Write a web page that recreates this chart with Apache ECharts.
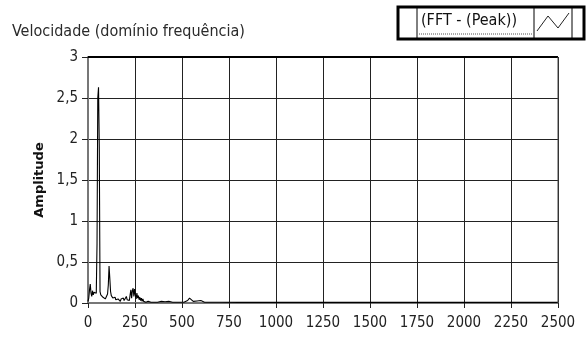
<!DOCTYPE html>
<html><head><meta charset="utf-8">
<script src="https://cdn.jsdelivr.net/npm/echarts@6/dist/echarts.min.js"></script>
<style>html,body{margin:0;padding:0;background:#fff}#c{width:586px;height:343px}</style>
</head><body><div id="c"></div>
<script>
const freqs = [0,4,8,12,16,20,24,28,32,36,40,44,48,52,56,60,64,68,72,76,80,84,88,92,96,100,104,108,112,116,120,124,128,132,136,140,144,148,152,156,160,164,168,172,176,180,184,188,192,196,200,204,208,212,216,220,224,228,232,236,240,244,248,252,256,260,264,268,272,276,280,284,288,292,296,300,304,308,312,316,320,325,330,335,340,345,350,360,370,380,390,400,410,420,430,440,450,460,470,480,490,500,510,520,530,540,550,560,570,580,590,600,610,620,630,640,650,660,670,680,690,700,800,1000,1250,1500,1750,2000,2250,2500];
const amps = [0.02,0.06,0.16,0.23,0.12,0.08,0.15,0.10,0.13,0.11,0.14,0.12,0.72,2.50,2.63,1.90,0.14,0.10,0.08,0.12,0.07,0.06,0.09,0.05,0.07,0.06,0.11,0.22,0.45,0.30,0.14,0.09,0.11,0.06,0.08,0.05,0.07,0.04,0.06,0.03,0.05,0.03,0.04,0.02,0.05,0.03,0.04,0.06,0.03,0.05,0.02,0.08,0.04,0.02,0.06,0.03,0.10,0.16,0.06,0.15,0.18,0.08,0.17,0.10,0.05,0.12,0.06,0.09,0.04,0.07,0.03,0.06,0.02,0.05,0.02,0.04,0.03,0.01,0.03,0.02,0.02,0.01,0.02,0.01,0.015,0.02,0.01,0.02,0.01,0.015,0.02,0.01,0.015,0.01,0.02,0.01,0.01,0.015,0.01,0.01,0.01,0.01,0.01,0.015,0.03,0.06,0.04,0.02,0.02,0.025,0.02,0.03,0.01,0.01,0.015,0.01,0.02,0.01,0.02,0.01,0.01,0.01,0.008,0.008,0.008,0.008,0.008,0.008,0.008,0.008];
const xTicks = [0,250,500,750,1000,1250,1500,1750,2000,2250,2500];
const yTicks = [0,0.5,1,1.5,2,2.5,3];
const titleText = 'Velocidade (domínio frequência)';
const legendText = '(FFT - (Peak))';
const yName = 'Amplitude';

const data = freqs.map((f,i)=>[f,amps[i]]);
const FONT = '"Liberation Sans Narrow","DejaVu Sans Condensed","Liberation Sans",sans-serif';
const chart = echarts.init(document.getElementById('c'));
chart.setOption({
  animation:false,
  backgroundColor:'#fff',
  grid:{left:88,right:28,top:57,bottom:40,show:false},
  title:{text:titleText,left:7,top:19,textStyle:{fontFamily:FONT,fontSize:16,fontWeight:'normal',color:'#2a2a2a'}},
  xAxis:{type:'value',min:0,max:2500,interval:250,
    axisLine:{show:true,lineStyle:{color:'#777',width:2}},
    axisTick:{show:true,length:5,inside:false,lineStyle:{color:'#222'}},
    axisLabel:{fontFamily:FONT,fontSize:15,color:'#222',margin:13,formatter:v=>String(v)},
    splitLine:{show:true,lineStyle:{color:'#222',width:1}}},
  yAxis:{type:'value',min:0,max:3,interval:0.5,name:yName,nameLocation:'middle',nameGap:38,
    nameTextStyle:{fontFamily:'"DejaVu Sans","Liberation Sans",sans-serif',fontWeight:'bold',fontSize:13,color:'#111'},
    axisLine:{show:true,lineStyle:{color:'#777',width:2}},
    axisTick:{show:true,length:6,lineStyle:{color:'#222'}},
    axisLabel:{fontFamily:FONT,fontSize:15,color:'#222',margin:10,formatter:v=>String(v).replace('.',',')},
    splitLine:{show:true,lineStyle:{color:'#222',width:1}}},
  series:[{type:'line',data:data,symbol:'none',lineStyle:{color:'#000',width:1.1},z:5}],
  graphic:[
    {type:'line',shape:{x1:88,y1:57,x2:558,y2:57},style:{stroke:'#000',lineWidth:2},z:10},
    {type:'line',shape:{x1:558,y1:57,x2:558,y2:303},style:{stroke:'#444',lineWidth:1},z:10},
    {type:'rect',shape:{x:398,y:7,width:186,height:32},style:{fill:'#fff',stroke:'#000',lineWidth:3},z:10},
    {type:'line',shape:{x1:417,y1:7,x2:417,y2:39},style:{stroke:'#000',lineWidth:1},z:11},
    {type:'line',shape:{x1:534,y1:7,x2:534,y2:39},style:{stroke:'#000',lineWidth:1},z:11},
    {type:'line',shape:{x1:572,y1:7,x2:572,y2:39},style:{stroke:'#000',lineWidth:1},z:11},
    {type:'text',left:421,top:13,style:{text:legendText,font:'16px '+FONT,fill:'#111'},z:11},
    {type:'line',shape:{x1:419,y1:34,x2:532,y2:34},style:{stroke:'#555',lineWidth:1,lineDash:[1,1]},z:11},
    {type:'polyline',shape:{points:[[537,31],[548,16],[558,28],[569,13]]},style:{stroke:'#222',lineWidth:1,fill:null},z:11}
  ]
});
</script></body></html>
